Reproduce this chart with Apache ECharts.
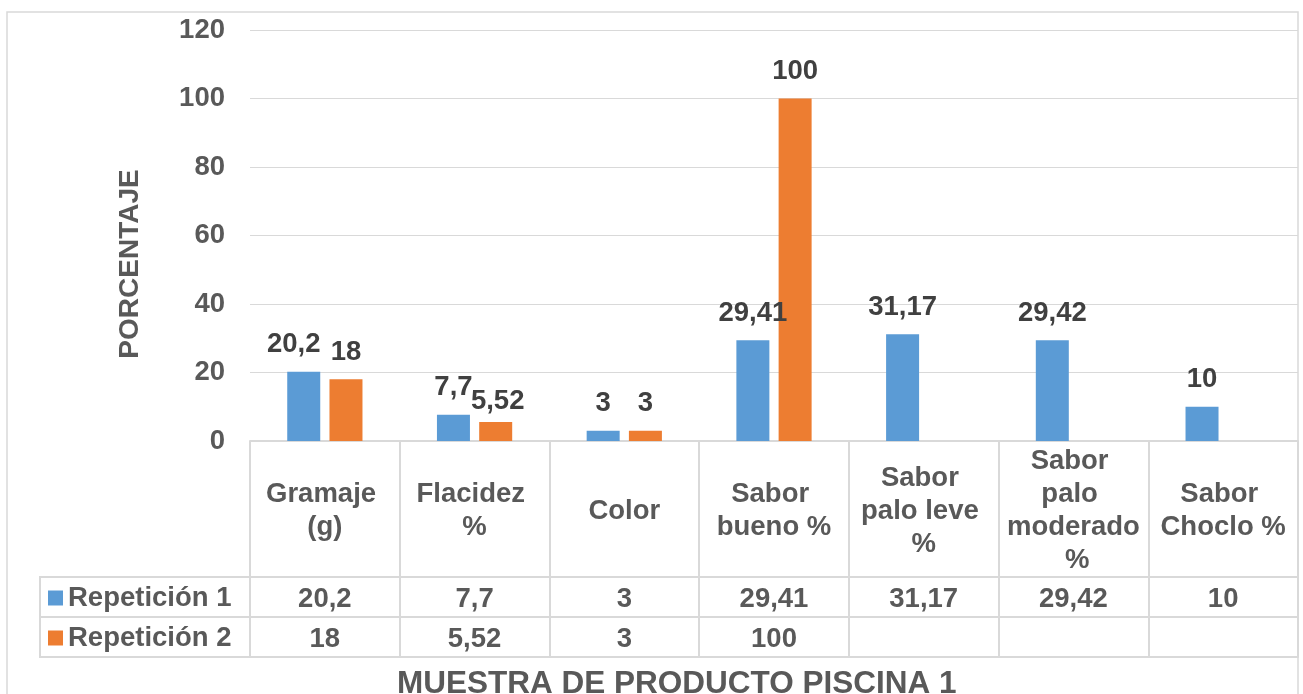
<!DOCTYPE html>
<html>
<head>
<meta charset="utf-8">
<title>Muestra de producto piscina 1</title>
<script src="https://cdn.jsdelivr.net/npm/echarts@6/dist/echarts.min.js"></script>
<style>
  html, body { margin: 0; padding: 0; background: #ffffff; }
  #chart { width: 1303px; height: 694px; }
</style>
</head>
<body>
<div id="chart"></div>
<script>
// Categories and the two repetitions measured for each one
const categories = ['Gramaje (g)', 'Flacidez %', 'Color', 'Sabor bueno %', 'Sabor palo leve %', 'Sabor palo moderado %', 'Sabor Choclo %'];
const repeticion1 = [20.2, 7.7, 3, 29.41, 31.17, 29.42, 10];
const repeticion2 = [18, 5.52, 3, 100, null, null, null];
const seriesNames = ['Repetición 1', 'Repetición 2'];
const yMin = 0, yMax = 120, yStep = 20;
const axisTitle = 'PORCENTAJE';
const chartTitle = 'MUESTRA DE PRODUCTO PISCINA 1';

// Layout
const W = 1303, H = 694;
const gridLeft = 250, gridRight = 1298, gridTop = 30, gridBottom = 441;
const headRow = 136, valueRow = 40;       // data-table row heights
const legendColLeft = 40;
const FONT = '"Liberation Sans", Arial, Helvetica, sans-serif';
const TXT = 27.5;
const gray = '#595959', dark = '#404040', line = '#d9d9d9';
const colors = ['#5B9BD5', '#ED7D31'];

// Decimal comma, as in the source sheet
const fmt = v => (v === null || v === undefined) ? '' : String(v).replace('.', ',');

// Small nudges Excel applied to crowded data labels
const labelNudge = [{ 0: [-10, 0] }, { 1: [2, 6] }];

const tableLine = { color: line, width: 2 };

function valueAxis(offset, values) {
  return {
    type: 'category',
    data: categories,
    position: 'bottom',
    offset: offset,
    axisLine: { show: true, lineStyle: tableLine },
    axisTick: { show: false },
    splitLine: { show: false },
    axisLabel: values ? {
      show: true, interval: 0, margin: valueRow / 2 + 2, verticalAlign: 'middle',
      fontFamily: FONT, fontSize: TXT, fontWeight: 'bold', color: gray,
      formatter: (v, i) => fmt(values[i])
    } : { show: false }
  };
}

const chart = echarts.init(document.getElementById('chart'), null, { renderer: 'canvas', width: W, height: H });

const seriesData = [repeticion1, repeticion2];

chart.setOption({
  animation: false,
  backgroundColor: '#ffffff',
  color: colors,
  title: {
    text: chartTitle,
    left: 397, top: 668, padding: 0,
    textStyle: { fontFamily: FONT, fontSize: 31.5, fontWeight: 'bold', color: gray }
  },
  legend: {
    orient: 'vertical',
    left: 48, top: gridBottom + headRow + 1, padding: 0, itemGap: 0,
    itemWidth: 15, itemHeight: 15, icon: 'rect',
    data: seriesNames,
    textStyle: { fontFamily: FONT, fontSize: TXT, fontWeight: 'bold', color: gray, lineHeight: valueRow }
  },
  grid: { left: gridLeft, right: W - gridRight, top: gridTop, bottom: H - gridBottom, containLabel: false },
  xAxis: [
    {
      type: 'category',
      data: categories,
      position: 'bottom',
      axisLine: { show: true, lineStyle: tableLine },
      axisTick: { show: true, interval: 0, length: headRow + 2 * valueRow, lineStyle: tableLine },
      axisLabel: {
        show: true, interval: 0, hideOverlap: false,
        margin: headRow / 2 + 2, verticalAlign: 'middle', align: 'center',
        width: 134, overflow: 'break', lineHeight: 33,
        fontFamily: FONT, fontSize: TXT, fontWeight: 'bold', color: gray
      }
    },
    valueAxis(headRow, repeticion1),
    valueAxis(headRow + valueRow, repeticion2),
    valueAxis(headRow + 2 * valueRow, null)
  ],
  yAxis: {
    type: 'value',
    min: yMin, max: yMax, interval: yStep,
    axisLine: { show: false },
    axisTick: { show: false },
    splitLine: { show: true, lineStyle: { color: line, width: 1 } },
    axisLabel: { margin: 25, fontFamily: FONT, fontSize: TXT, fontWeight: 'bold', color: gray }
  },
  series: seriesNames.map((name, s) => ({
    name: name,
    type: 'bar',
    xAxisIndex: 0,
    barWidth: 33,
    barGap: '28%',
    data: seriesData[s].map((v, i) => {
      const item = { value: v };
      if (labelNudge[s][i]) item.label = { offset: labelNudge[s][i] };
      return item;
    }),
    label: {
      show: true, position: 'top', distance: 13,
      fontFamily: FONT, fontSize: TXT, fontWeight: 'bold', color: dark,
      formatter: p => fmt(p.value)
    }
  })),
  graphic: [
    // outer chart border
    {
      type: 'rect', z: -1, silent: true,
      shape: { x: 7, y: 12, width: gridRight - 7, height: H },
      style: { fill: 'none', stroke: line, lineWidth: 1.5 }
    },
    // legend column of the data table
    {
      type: 'rect', silent: true,
      shape: { x: legendColLeft, y: gridBottom + headRow, width: gridLeft - legendColLeft, height: 2 * valueRow },
      style: { fill: 'none', stroke: line, lineWidth: 2 }
    },
    {
      type: 'line', silent: true,
      shape: { x1: legendColLeft, y1: gridBottom + headRow + valueRow, x2: gridLeft, y2: gridBottom + headRow + valueRow },
      style: { stroke: line, lineWidth: 2 }
    },
    // y-axis title
    {
      type: 'text', silent: true,
      x: 130, y: 264, rotation: Math.PI / 2,
      style: {
        text: axisTitle, fill: gray, font: 'bold 28px ' + FONT,
        align: 'center', verticalAlign: 'middle'
      }
    }
  ]
});
</script>
</body>
</html>
